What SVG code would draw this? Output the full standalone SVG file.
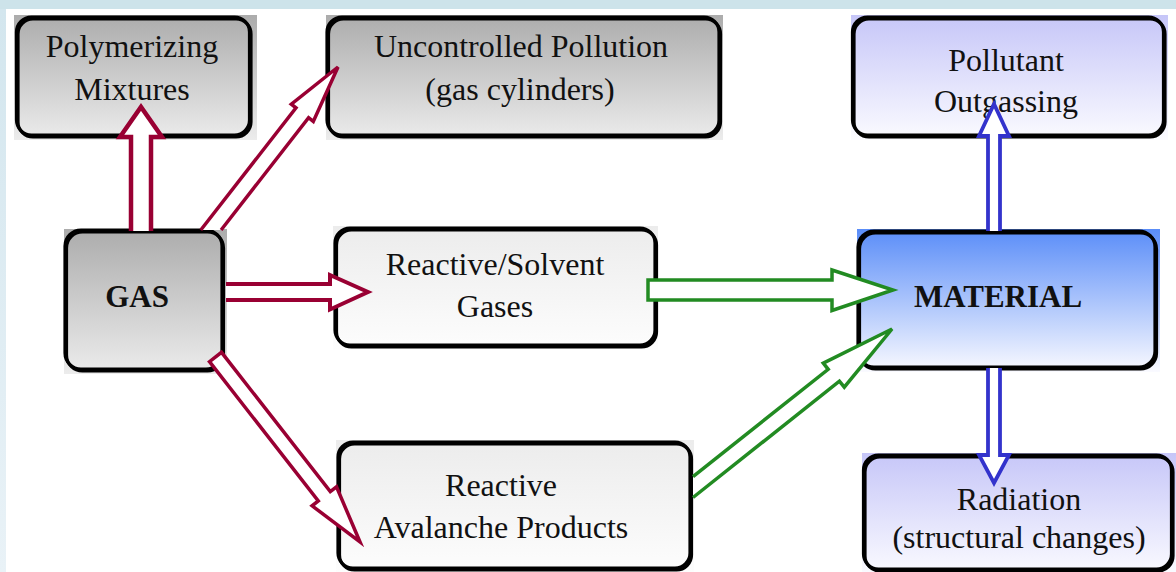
<svg xmlns="http://www.w3.org/2000/svg" width="1176" height="572" viewBox="0 0 1176 572">
  <style>
    .ol { fill: none; stroke: #000; stroke-width: 3.2; }
    .sh { fill: none; stroke: #000; stroke-width: 3.2; }
    .t { font-family: 'Liberation Serif', 'DejaVu Serif', serif; font-size: 32px; fill: #111; text-anchor: middle; }
    .b { font-weight: bold; font-size: 31px; }
    .ac { fill: #fff; stroke: #990033; stroke-width: 3.5; stroke-linejoin: miter; }
    .ag { fill: #fff; stroke: #228b22; stroke-width: 3.5; stroke-linejoin: miter; }
    .ab { fill: #fff; stroke: #3333cc; stroke-width: 3.8; stroke-linejoin: miter; }
  </style>
  <defs>
    <linearGradient id="gGray" x1="0" y1="0" x2="0" y2="1">
      <stop offset="0" stop-color="#acacac"/>
      <stop offset="1" stop-color="#ececec"/>
    </linearGradient>
    <linearGradient id="gLight" x1="0" y1="0" x2="0" y2="1">
      <stop offset="0" stop-color="#ececec"/>
      <stop offset="1" stop-color="#fdfdfd"/>
    </linearGradient>
    <linearGradient id="gBlue" x1="0" y1="0" x2="0" y2="1">
      <stop offset="0" stop-color="#5a8df8"/>
      <stop offset="1" stop-color="#fafaff"/>
    </linearGradient>
    <linearGradient id="gLav" x1="0" y1="0" x2="0" y2="1">
      <stop offset="0" stop-color="#c6c6f8"/>
      <stop offset="1" stop-color="#fbfbff"/>
    </linearGradient>
    <linearGradient id="gLeft" x1="0" y1="0" x2="0" y2="1">
      <stop offset="0" stop-color="#d3e6ee"/>
      <stop offset="1" stop-color="#e9f2f7"/>
    </linearGradient>
  </defs>

  <!-- background -->
  <rect x="0" y="0" width="1176" height="572" fill="#ffffff"/>
  <rect x="0" y="0" width="1176" height="9" fill="#cde3ea"/>
  <rect x="0" y="9" width="6" height="563" fill="url(#gLeft)"/>

  <g id="node-polymerizing">
    <rect x="14" y="15" width="243" height="125" fill="url(#gGray)"/>
    <rect class="sh" x="18" y="19" width="233" height="118" rx="15"/>
    <rect class="ol" x="16.5" y="17" width="233" height="118" rx="15"/>
    <text class="t" font-family="Liberation Serif, serif" x="132" y="57">Polymerizing</text>
    <text class="t" font-family="Liberation Serif, serif" x="132" y="100">Mixtures</text>
  </g>

  <g id="node-uncontrolled">
    <rect x="326" y="15" width="397" height="125" fill="url(#gGray)"/>
    <rect class="sh" x="328.5" y="19" width="392" height="118" rx="15"/>
    <rect class="ol" x="327" y="17" width="392" height="118" rx="15"/>
    <text class="t" x="521" y="57">Uncontrolled Pollution</text>
    <text class="t" x="520" y="100">(gas cylinders)</text>
  </g>

  <g id="node-gas">
    <rect x="64" y="229" width="163" height="145" fill="url(#gGray)"/>
    <rect class="sh" x="66.5" y="232" width="157" height="139" rx="16"/>
    <rect class="ol" x="65" y="230" width="157" height="139" rx="16"/>
    <text class="t b" x="137" y="307">GAS</text>
  </g>

  <g id="node-reactive-solvent">
    <rect x="333" y="226" width="325" height="124" fill="url(#gLight)"/>
    <rect class="sh" x="336.5" y="230" width="320" height="117" rx="15"/>
    <rect class="ol" x="335" y="228" width="320" height="117" rx="15"/>
    <text class="t" x="495" y="275">Reactive/Solvent</text>
    <text class="t" x="495" y="317">Gases</text>
  </g>

  <g id="node-avalanche">
    <rect x="336" y="440" width="358" height="134" fill="url(#gLight)"/>
    <rect class="sh" x="339.5" y="444" width="352" height="126" rx="15"/>
    <rect class="ol" x="338" y="442" width="352" height="126" rx="15"/>
    <text class="t" x="501" y="496">Reactive</text>
    <text class="t" x="501" y="538">Avalanche Products</text>
  </g>

  <g id="node-material">
    <rect x="857" y="229" width="303" height="143" fill="url(#gBlue)"/>
    <rect class="sh" x="859.5" y="233" width="297" height="136" rx="16"/>
    <rect class="ol" x="858" y="231" width="297" height="136" rx="16"/>
    <text class="t b" x="998" y="307">MATERIAL</text>
  </g>

  <g id="node-pollutant">
    <rect x="851" y="15" width="317" height="125" fill="url(#gLav)"/>
    <rect class="sh" x="854" y="19" width="311" height="118" rx="15"/>
    <rect class="ol" x="852.5" y="17" width="311" height="118" rx="15"/>
    <text class="t" x="1006" y="71">Pollutant</text>
    <text class="t" x="1006" y="112">Outgassing</text>
  </g>

  <g id="node-radiation">
    <rect x="862" y="453" width="316" height="122" fill="url(#gLav)"/>
    <rect class="sh" x="865" y="457" width="308" height="114" rx="15"/>
    <rect class="ol" x="863.5" y="455" width="308" height="114" rx="15"/>
    <text class="t" x="1019" y="510">Radiation</text>
    <text class="t" x="1019" y="548">(structural changes)</text>
  </g>

  <g id="connectors">
    <path class="ac" style="stroke-width:4.5" d="M131,231 L131,137 L120,137 L141,107 L162,137 L151,137 L151,231"/>
    <path class="ac" d="M221.1,230 L308.6,117.7 L313.3,121.4 L338,67 L291.3,104.2 L296,107.9 L200.8,230"/>
    <path class="ac" style="stroke-width:4" d="M226,284 L330,284 L330,275 L368,292 L330,309.5 L330,300 L226,300"/>
    <path class="ac" d="M209.5,361.7 L318.3,501 L312.1,505.8 L360,542 L336.5,486.8 L330.3,491.6 L221.5,352.3 Z"/>
    <path class="ag" d="M648,300 L648,280 L832,280 L832,270 L893,290 L832,310.5 L832,300 Z"/>
    <path class="ag" d="M693,497.5 L839.4,381.1 L844.3,387.2 L892,329 L823.3,363.2 L828.2,369.3 L693,476.6"/>
    <path class="ab" d="M988,231 L988,136 L979,136 L994,104 L1009,136 L1000,136 L1000,231"/>
    <path class="ab" d="M988,368 L988,455 L979,455 L994,483 L1009,455 L1000,455 L1000,368"/>
  </g>
</svg>
